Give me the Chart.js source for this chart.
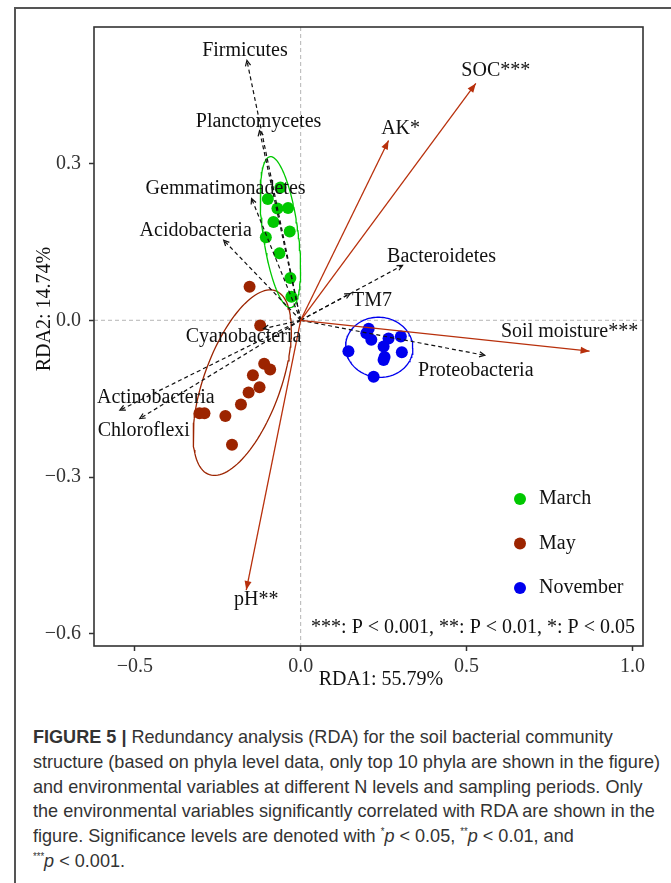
<!DOCTYPE html>
<html>
<head>
<meta charset="utf-8">
<script src="https://cdn.jsdelivr.net/npm/chart.js@4.4.0/dist/chart.umd.min.js"></script>
<style>
  html, body { margin: 0; padding: 0; background: #fff; }
  body { width: 671px; height: 883px; position: relative; overflow: hidden; }
  #frame { position: absolute; left: 14px; top: 7px; width: 720px; height: 900px; border-top: 2px solid #555; border-left: 2px solid #555; }
  #chart { position: absolute; left: 0; top: 0; }
  #caption { position: absolute; left: 33px; top: 725px; font-family: 'Liberation Sans', Arial, sans-serif; font-size: 19px; line-height: 24.8px; color: #333; white-space: nowrap; transform-origin: 0 0; }
  #caption span { display: inline-block; }
  #caption sup { font-size: 10px; vertical-align: 7px; line-height: 0; }
  #caption i { font-style: italic; }
</style>
</head>
<body>
<div id="frame"></div>
<canvas id="chart" width="671" height="700"></canvas>
<div id="caption">
<div><b>FIGURE 5 |</b> Redundancy analysis (RDA) for the soil bacterial community</div>
<div><span id="wide">structure (based on phyla level data, only top 10 phyla are shown in the figure)</span></div>
<div>and environmental variables at different N levels and sampling periods. Only</div>
<div>the environmental variables significantly correlated with RDA are shown in the</div>
<div>figure. Significance levels are denoted with <sup>*</sup><i>p</i> &lt; 0.05, <sup>**</sup><i>p</i> &lt; 0.01, and</div>
<div><sup>***</sup><i>p</i> &lt; 0.001.</div>
</div>
<script>
'use strict'

/* global Chart */

// sample scores (RDA1, RDA2) per sampling period
const marchX = [-0.061, -0.099, -0.070, -0.038, -0.082, -0.033, -0.105, -0.064, -0.031, -0.028]
const marchY = [0.254, 0.232, 0.214, 0.215, 0.188, 0.170, 0.159, 0.128, 0.081, 0.045]

const mayX = [-0.154, -0.122, -0.110, -0.092, -0.144, -0.124, -0.157, -0.180, -0.305, -0.290, -0.227, -0.207]
const mayY = [0.064, -0.010, -0.083, -0.094, -0.105, -0.128, -0.138, -0.161, -0.178, -0.178, -0.183, -0.238]

const novX = [0.205, 0.198, 0.213, 0.265, 0.302, 0.250, 0.144, 0.305, 0.253, 0.250, 0.220]
const novY = [-0.016, -0.025, -0.037, -0.035, -0.031, -0.050, -0.059, -0.061, -0.070, -0.076, -0.108]

// environmental variables (red arrows)
const envNames = ['SOC***', 'AK*', 'Soil moisture***', 'pH**']
const envX = [0.528, 0.265, 0.871, -0.164]
const envY = [0.453, 0.344, -0.059, -0.516]

// phyla (black dashed arrows)
const phylaNames = ['Firmicutes', 'Planctomycetes', 'Gemmatimonadetes', 'Acidobacteria', 'Bacteroidetes',
  'TM7', 'Proteobacteria', 'Cyanobacteria', 'Actinobacteria', 'Chloroflexi']
const phylaX = [-0.162, -0.124, -0.148, -0.232, 0.307, 0.149, 0.555, -0.112, -0.545, -0.485]
const phylaY = [0.497, 0.363, 0.233, 0.153, 0.105, 0.051, -0.067, -0.016, -0.172, -0.188]

const xTicks = [-0.5, 0.0, 0.5, 1.0]
const yTicks = [-0.6, -0.3, 0.0, 0.3]
const groupNames = ['March', 'May', 'November']

// label nudges in pixels from the arrow tip
const envNudge = [[20, -13], [12, -12], [-20, -19], [10, 10]]
const phylaNudge = [[-2, -10], [-1, -9], [-26, -10], [-28, -10], [39, -9], [22, 7], [-9, 15], [-20, 8], [36, -12], [4, 12]]

const colours = ['#00c800', '#9c2400', '#0000ee']
const arrowRed = '#b8300c'
const font = 'Liberation Serif, Times New Roman, serif'
const ellipseLevel = 2.15

// squeeze the caption to the condensed width of the original
const caption = document.getElementById('caption')
const wideW = document.getElementById('wide').getBoundingClientRect().width
caption.style.transform = 'scaleX(' + (627 / wideW) + ')'

function toPoints (xs, ys) {
  return xs.map((x, i) => ({ x: x, y: ys[i] }))
}

function mean (a) {
  return a.reduce((s, v) => s + v, 0) / a.length
}

// normal data ellipse from the group's covariance
function dataEllipse (xs, ys, k) {
  const n = xs.length
  const mx = mean(xs)
  const my = mean(ys)
  let sxx = 0
  let syy = 0
  let sxy = 0
  for (let i = 0; i < n; i++) {
    sxx += (xs[i] - mx) * (xs[i] - mx)
    syy += (ys[i] - my) * (ys[i] - my)
    sxy += (xs[i] - mx) * (ys[i] - my)
  }
  sxx /= n - 1
  syy /= n - 1
  sxy /= n - 1
  const a = Math.sqrt(sxx)
  const b = sxy / a
  const c = Math.sqrt(syy - b * b)
  const pts = []
  for (let j = 0; j <= 120; j++) {
    const t = j / 120 * Math.PI * 2
    pts.push({ x: mx + k * a * Math.cos(t), y: my + k * (b * Math.cos(t) + c * Math.sin(t)) })
  }
  return pts
}

function tickText (v) {
  return (v < 0 ? '\u2212' : '') + Math.abs(v).toFixed(1)
}

const groupsX = [marchX, mayX, novX]
const groupsY = [marchY, mayY, novY]

const datasets = []

groupsX.forEach((xs, g) => {
  datasets.push({
    data: dataEllipse(xs, groupsY[g], ellipseLevel),
    showLine: true,
    borderColor: colours[g],
    borderWidth: 1.3,
    pointRadius: 0,
    order: 3
  })
})

groupsX.forEach((xs, g) => {
  datasets.push({
    data: toPoints(xs, groupsY[g]),
    backgroundColor: colours[g],
    borderWidth: 0,
    pointRadius: 6,
    order: 2
  })
})

phylaX.forEach((x, i) => {
  datasets.push({
    kind: 'phyla',
    label: phylaNames[i],
    data: [{ x: 0, y: 0 }, { x: x, y: phylaY[i] }],
    showLine: true,
    borderColor: '#111',
    borderWidth: 1.2,
    borderDash: [4, 3],
    pointRadius: 0,
    order: 1
  })
})

envX.forEach((x, i) => {
  datasets.push({
    kind: 'env',
    label: envNames[i],
    data: [{ x: 0, y: 0 }, { x: x, y: envY[i] }],
    showLine: true,
    borderColor: arrowRed,
    borderWidth: 1.3,
    pointRadius: 0,
    order: 0
  })
})

const overlay = {
  id: 'overlay',
  beforeDatasetsDraw (chart) {
    const { ctx, chartArea: a, scales } = chart
    const x0 = scales.x.getPixelForValue(0)
    const y0 = scales.y.getPixelForValue(0)
    ctx.save()
    ctx.strokeStyle = '#b5b5b5'
    ctx.lineWidth = 1
    ctx.setLineDash([4, 3])
    ctx.beginPath()
    ctx.moveTo(x0, a.top)
    ctx.lineTo(x0, a.bottom)
    ctx.moveTo(a.left, y0)
    ctx.lineTo(a.right, y0)
    ctx.stroke()
    ctx.restore()
  },
  afterDatasetsDraw (chart) {
    const { ctx, scales } = chart
    const x0 = scales.x.getPixelForValue(0)
    const y0 = scales.y.getPixelForValue(0)
    ctx.save()
    chart.data.datasets.forEach((ds) => {
      if (!ds.kind) return
      const tip = ds.data[1]
      const px = scales.x.getPixelForValue(tip.x)
      const py = scales.y.getPixelForValue(tip.y)
      const ang = Math.atan2(py - y0, px - x0)
      if (ds.kind === 'env') {
        ctx.fillStyle = arrowRed
        ctx.beginPath()
        ctx.moveTo(px, py)
        ctx.lineTo(px - 9 * Math.cos(ang) + 3.5 * Math.sin(ang), py - 9 * Math.sin(ang) - 3.5 * Math.cos(ang))
        ctx.lineTo(px - 9 * Math.cos(ang) - 3.5 * Math.sin(ang), py - 9 * Math.sin(ang) + 3.5 * Math.cos(ang))
        ctx.closePath()
        ctx.fill()
      } else {
        ctx.strokeStyle = '#111'
        ctx.lineWidth = 1.2
        ctx.beginPath()
        ctx.moveTo(px - 6 * Math.cos(ang - 0.45), py - 6 * Math.sin(ang - 0.45))
        ctx.lineTo(px, py)
        ctx.lineTo(px - 6 * Math.cos(ang + 0.45), py - 6 * Math.sin(ang + 0.45))
        ctx.stroke()
      }
    })

    ctx.fillStyle = '#111'
    ctx.font = '20px ' + font
    ctx.textAlign = 'center'
    ctx.textBaseline = 'middle'
    phylaNames.forEach((name, i) => {
      const px = scales.x.getPixelForValue(phylaX[i])
      const py = scales.y.getPixelForValue(phylaY[i])
      ctx.fillText(name, px + phylaNudge[i][0], py + phylaNudge[i][1])
    })
    envNames.forEach((name, i) => {
      const px = scales.x.getPixelForValue(envX[i])
      const py = scales.y.getPixelForValue(envY[i])
      ctx.fillText(name, px + envNudge[i][0], py + envNudge[i][1])
    })
    ctx.restore()
  },
  afterDraw (chart) {
    const { ctx, chartArea: a } = chart
    ctx.save()
    ctx.strokeStyle = '#333'
    ctx.lineWidth = 1.6
    ctx.strokeRect(a.left, a.top, a.right - a.left, a.bottom - a.top)

    // legend
    ctx.font = '20px ' + font
    ctx.textBaseline = 'middle'
    ctx.textAlign = 'left'
    groupNames.forEach((name, g) => {
      const ly = a.top + 472 + g * 44.5
      ctx.fillStyle = colours[g]
      ctx.beginPath()
      ctx.arc(a.left + 426, ly, 6, 0, Math.PI * 2)
      ctx.fill()
      ctx.fillStyle = '#111'
      ctx.fillText(name, a.left + 445, ly)
    })

    ctx.textAlign = 'right'
    ctx.fillText('***: P < 0.001, **: P < 0.01, *: P < 0.05', a.right - 8, a.bottom - 18)

    // axis titles
    ctx.textAlign = 'center'
    ctx.fillText('RDA1: 55.79%', 381, 680)
    ctx.translate(45, 309)
    ctx.rotate(-Math.PI / 2)
    ctx.fillText('RDA2: 14.74%', 0, 0)
    ctx.restore()
  }
}

const axisFont = { family: font, size: 20 }

new Chart(document.getElementById('chart'), {
  type: 'scatter',
  data: { datasets: datasets },
  options: {
    responsive: false,
    animation: false,
    layout: { padding: { top: 27, right: 28, left: 0, bottom: 0 } },
    plugins: { legend: { display: false }, tooltip: { enabled: false } },
    scales: {
      x: {
        type: 'linear',
        min: -0.623,
        max: 1.032,
        afterBuildTicks: (s) => { s.ticks = xTicks.map((v) => ({ value: v })) },
        afterFit: (s) => { s.height = 54 },
        ticks: { callback: (v) => tickText(v), font: axisFont, color: '#333', padding: 4, maxRotation: 0, autoSkip: false },
        grid: { drawOnChartArea: false, tickLength: 5, tickColor: '#333', tickWidth: 1.5 },
        border: { display: false }
      },
      y: {
        type: 'linear',
        min: -0.623,
        max: 0.561,
        afterBuildTicks: (s) => { s.ticks = yTicks.map((v) => ({ value: v })) },
        afterFit: (s) => { s.width = 94 },
        ticks: { callback: (v) => tickText(v), font: axisFont, color: '#333', padding: 8, autoSkip: false },
        grid: { drawOnChartArea: false, tickLength: 5, tickColor: '#333', tickWidth: 1.5 },
        border: { display: false }
      }
    }
  },
  plugins: [overlay]
})
</script>
</body>
</html>
